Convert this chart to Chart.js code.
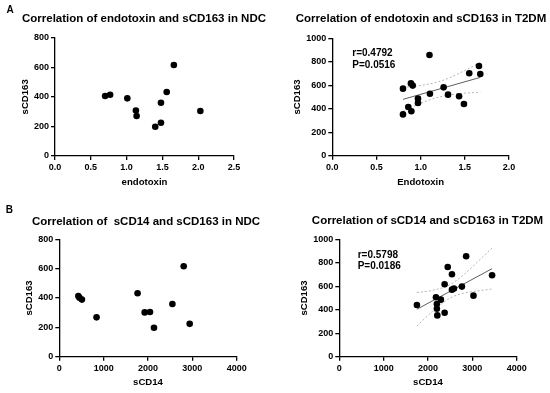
<!DOCTYPE html>
<html>
<head>
<meta charset="utf-8">
<script src="https://cdn.jsdelivr.net/npm/chart.js@4.4.1/dist/chart.umd.min.js"></script>
<style>
  body { margin: 0; background: #fff; }
  #wrap { position: relative; width: 550px; height: 393px; }
  #wrap canvas { position: absolute; left: 0; top: 0; }
</style>
</head>
<body>
<div id="wrap">
  <canvas id="c1" width="550" height="393"></canvas>
  <canvas id="c2" width="550" height="393"></canvas>
  <canvas id="c3" width="550" height="393"></canvas>
  <canvas id="c4" width="550" height="393"></canvas>
</div>
<script>
// A: endotoxin vs sCD163
const endoNdcX = [0.70, 0.77, 1.01, 1.13, 1.14, 1.40, 1.48, 1.48, 1.56, 1.66, 2.03];
const endoNdcY = [406, 414, 390, 308, 270, 198, 360, 225, 433, 615, 304];

const endoT2dmX = [0.80, 0.80, 0.86, 0.895, 0.89, 0.91, 0.97, 0.97, 1.10, 1.105, 1.26, 1.31, 1.435, 1.49, 1.55, 1.66, 1.675];
const endoT2dmY = [571, 352, 415, 378, 616, 597, 486, 449, 858, 528, 582, 520, 506, 440, 702, 764, 696];

const endoFitX = [0.80, 1.675];
const endoFitY = [480, 667];
const endoBandX = [0.80, 0.95, 1.16, 1.30, 1.45, 1.675];
const endoBandUp = [582, 592, 622, 655, 707, 794];
const endoBandLo = [378, 430, 490, 514, 530, 540];

// B: sCD14 vs sCD163
const cd14NdcX = [430, 455, 510, 840, 1765, 1925, 2045, 2135, 2550, 2805, 2940];
const cd14NdcY = [414, 402, 389, 268, 432, 302, 305, 197, 359, 616, 224];

const cd14T2dmX = [1750, 2180, 2200, 2200, 2210, 2290, 2375, 2375, 2445, 2540, 2540, 2585, 2765, 2860, 3025, 3445];
const cd14T2dmY = [440, 506, 449, 409, 352, 486, 617, 375, 764, 702, 571, 580, 597, 855, 520, 694];

const cd14FitX = [1750, 3445];
const cd14FitY = [404, 750];
const cd14BandX = [1750, 2100, 2500, 2800, 3150, 3445];
const cd14BandUp = [546, 565, 614, 697, 819, 925];
const cd14BandLo = [262, 385, 500, 541, 561, 577];

const FONT = "'Liberation Sans', Arial, sans-serif";
const AXIS_TITLE_SIZE = 9.6;
const LH = AXIS_TITLE_SIZE * 1.2;

// draws panel title, letter and r/P notes
const panelText = {
  id: 'panelText',
  afterDraw(chart, args, opts) {
    const ctx = chart.ctx;
    ctx.save();
    ctx.fillStyle = '#000';
    ctx.textBaseline = 'middle';
    ctx.textAlign = 'center';
    ctx.font = 'bold 11.5px ' + FONT;
    ctx.fillText(opts.title, opts.titleX, opts.titleY);
    if (opts.letter) {
      ctx.font = 'bold 10px ' + FONT;
      ctx.fillText(opts.letter, opts.letterX, opts.letterY);
    }
    if (opts.notes) {
      ctx.textAlign = 'left';
      ctx.font = 'bold 10px ' + FONT;
      opts.notes.forEach((n, i) => ctx.fillText(n, opts.noteX, opts.noteY + i * 11.7));
    }
    ctx.restore();
  }
};

function axis(min, max, step, title, fmt, afterFit) {
  return {
    type: 'linear',
    min: min, max: max,
    ticks: {
      stepSize: step, autoSkip: false, maxRotation: 0, padding: 2,
      color: '#000', font: { family: FONT, size: 9, weight: 'bold' },
      callback: fmt
    },
    grid: { display: true, drawOnChartArea: false, drawTicks: true, tickLength: 4, color: '#000', lineWidth: 1.3 },
    border: { display: true, color: '#000', width: 1.3 },
    title: {
      display: true, text: title, color: '#000', padding: 0,
      font: { family: FONT, size: AXIS_TITLE_SIZE, weight: 'bold', lineHeight: 1.2 }
    },
    afterFit: afterFit
  };
}

function toPts(xs, ys) {
  return xs.map((x, i) => ({ x: x, y: ys[i] }));
}

function makePanel(id, p) {
  const padLeft = p.yTitleX - LH / 2;
  const padBottom = 393 - (p.xTitleY + LH / 2);
  const datasets = [{
    data: toPts(p.xs, p.ys),
    pointRadius: 3.3, pointBackgroundColor: '#000', pointBorderWidth: 0, showLine: false
  }];
  if (p.fitX) {
    datasets.push({
      data: toPts(p.fitX, p.fitY), showLine: true, pointRadius: 0,
      borderColor: '#5e5e5e', borderWidth: 1
    });
    [p.bandUp, p.bandLo].forEach(b => datasets.push({
      data: toPts(p.bandX, b), showLine: true, pointRadius: 0,
      borderColor: '#b5b5b5', borderWidth: 1, borderDash: [2, 2],
      cubicInterpolationMode: 'monotone'
    }));
  }
  new Chart(document.getElementById(id), {
    type: 'scatter',
    data: { datasets: datasets },
    options: {
      responsive: false,
      animation: false,
      events: [],
      layout: { padding: { left: padLeft, right: 550 - p.area.r, top: p.area.t, bottom: padBottom } },
      scales: {
        x: axis(p.xMin, p.xMax, p.xStep, p.xTitle, p.xFmt, s => { s.height = p.xTitleY + LH / 2 - p.area.b; }),
        y: axis(0, p.yMax, 200, 'sCD163', v => v, s => { s.width = p.area.l - padLeft; })
      },
      plugins: {
        legend: { display: false },
        tooltip: { enabled: false },
        panelText: p.text
      }
    },
    plugins: [panelText]
  });
}

const oneDec = v => v.toFixed(1);
const plain = v => v;

makePanel('c1', {
  xs: endoNdcX, ys: endoNdcY,
  xMin: 0, xMax: 2.5, xStep: 0.5, yMax: 800, xTitle: 'endotoxin', xFmt: oneDec,
  area: { l: 55, r: 234, t: 37.7, b: 156 }, yTitleX: 25, xTitleY: 182.7,
  text: { title: 'Correlation of endotoxin and sCD163 in NDC', titleX: 144, titleY: 19, letter: 'A', letterX: 10, letterY: 10 }
});

makePanel('c2', {
  xs: endoT2dmX, ys: endoT2dmY,
  fitX: endoFitX, fitY: endoFitY, bandX: endoBandX, bandUp: endoBandUp, bandLo: endoBandLo,
  xMin: 0, xMax: 2, xStep: 0.5, yMax: 1000, xTitle: 'Endotoxin', xFmt: oneDec,
  area: { l: 332.3, r: 509, t: 38.3, b: 155.7 }, yTitleX: 297.7, xTitleY: 182.3,
  text: { title: 'Correlation of endotoxin and sCD163 in T2DM', titleX: 421, titleY: 19, notes: ['r=0.4792', 'P=0.0516'], noteX: 352.3, noteY: 53.3 }
});

makePanel('c3', {
  xs: cd14NdcX, ys: cd14NdcY,
  xMin: 0, xMax: 4000, xStep: 1000, yMax: 800, xTitle: 'sCD14', xFmt: plain,
  area: { l: 59.3, r: 236.7, t: 239.3, b: 356.7 }, yTitleX: 29.3, xTitleY: 382.3,
  text: { title: 'Correlation of  sCD14 and sCD163 in NDC', titleX: 146, titleY: 221.7, letter: 'B', letterX: 9.3, letterY: 210 }
});

makePanel('c4', {
  xs: cd14T2dmX, ys: cd14T2dmY,
  fitX: cd14FitX, fitY: cd14FitY, bandX: cd14BandX, bandUp: cd14BandUp, bandLo: cd14BandLo,
  xMin: 0, xMax: 4000, xStep: 1000, yMax: 1000, xTitle: 'sCD14', xFmt: plain,
  area: { l: 339.3, r: 516.7, t: 239.3, b: 356.7 }, yTitleX: 304.3, xTitleY: 382.7,
  text: { title: 'Correlation of sCD14 and sCD163 in T2DM', titleX: 427.5, titleY: 220.7, notes: ['r=0.5798', 'P=0.0186'], noteX: 357.7, noteY: 255 }
});
</script>
</body>
</html>
